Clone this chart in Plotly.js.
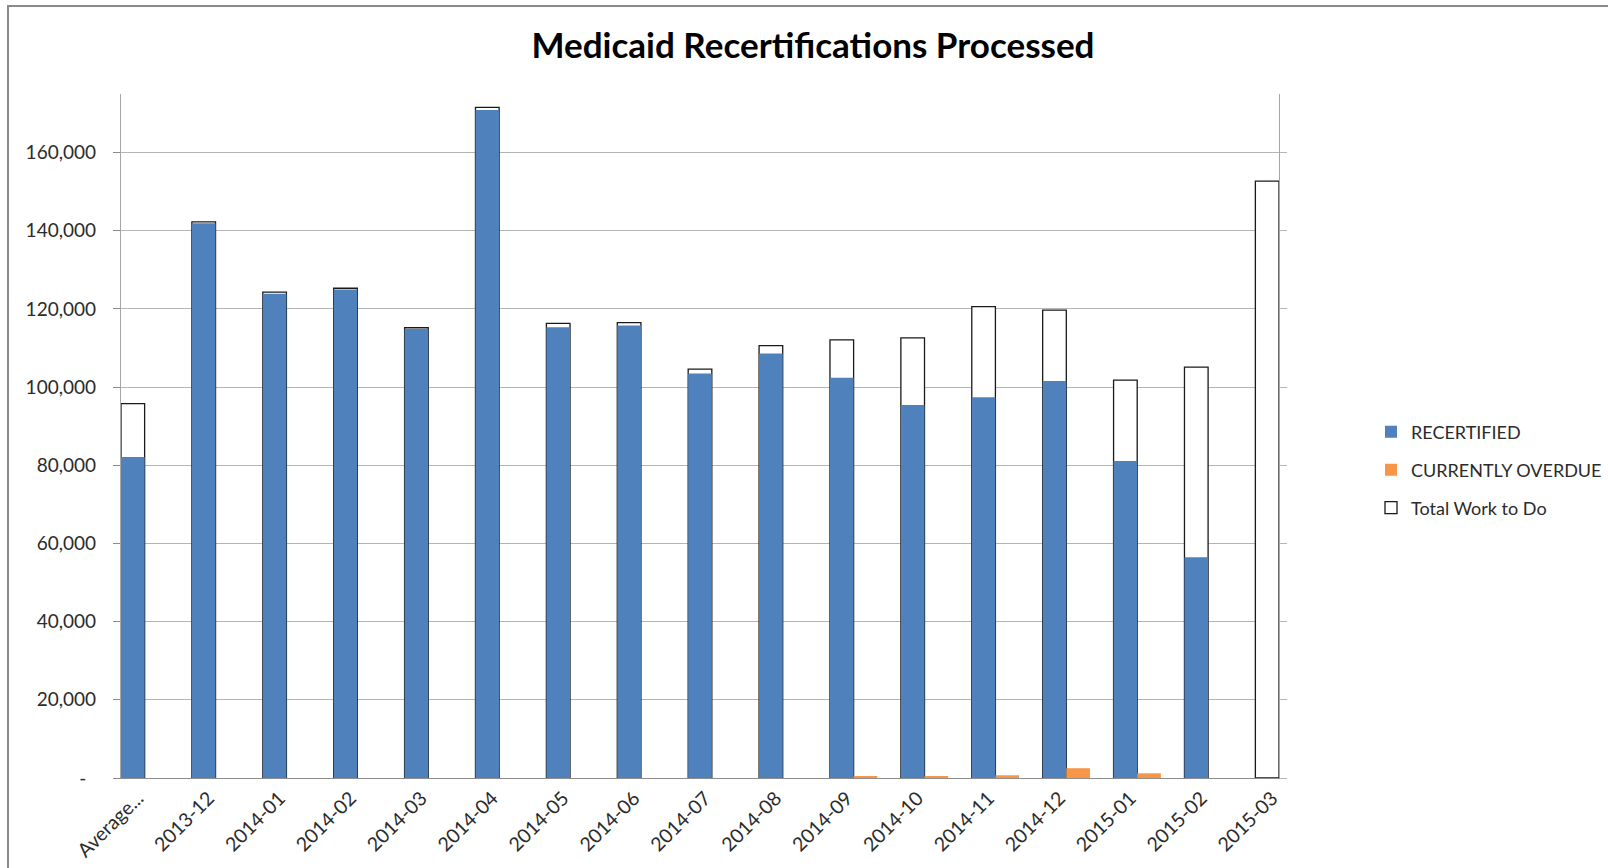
<!DOCTYPE html>
<html>
<head>
<meta charset="utf-8">
<script src="https://cdn.plot.ly/plotly-3.0.1.min.js"></script>
<style>
  html, body { margin: 0; padding: 0; background: #ffffff; overflow: hidden; }
  #wrap { position: relative; width: 1608px; height: 868px; overflow: hidden; }
  #chart { position: absolute; left: 0; top: 0; width: 1608px; height: 868px; }
  #frame { position: absolute; left: 7px; top: 5px; width: 1700px; height: 1000px;
           border: 2px solid #8a8a8a; box-sizing: border-box; pointer-events: none; }
</style>
</head>
<body>
<div id="wrap">
  <div id="chart"></div>
  <div id="frame"></div>
</div>
<script>
// ---- data ----
const categories = ['Average...', '2013-12', '2014-01', '2014-02', '2014-03', '2014-04',
  '2014-05', '2014-06', '2014-07', '2014-08', '2014-09', '2014-10', '2014-11',
  '2014-12', '2015-01', '2015-02', '2015-03'];

const recertified = [82100, 141900, 123900, 125000, 114900, 170900,
  115300, 115800, 103500, 108600, 102400, 95400, 97400,
  101600, 81100, 56500, null];

const currentlyOverdue = [null, null, null, null, null, null,
  null, null, null, null, 400, 400, 700,
  2500, 1200, null, null];

const totalWorkToDo = [95800, 142300, 124300, 125300, 115200, 171600,
  116300, 116500, 104600, 110600, 112100, 112600, 120600,
  119700, 101800, 105100, 152700];

const yTickVals = [0, 20000, 40000, 60000, 80000, 100000, 120000, 140000, 160000];
const yTickText = ['-\u00a0\u00a0', '20,000', '40,000', '60,000', '80,000',
  '100,000', '120,000', '140,000', '160,000'];

// ---- styling ----
const FONT = 'Lato, "Open Sans", "Noto Sans", sans-serif';
const TXT = '#2b2b2b';
const BW = 1 / 3;

const traces = [
  {
    type: 'bar', name: 'Total Work to Do', x: categories, y: totalWorkToDo,
    width: BW, offset: -BW / 2,
    marker: { color: '#ffffff', line: { color: '#1a1a1a', width: 1.3 } },
    legend: 'legend3', hoverinfo: 'x+y+name'
  },
  {
    type: 'bar', name: 'RECERTIFIED', x: categories, y: recertified,
    width: BW, offset: -BW / 2,
    marker: { color: '#4f81bd', line: { width: 0 } },
    legend: 'legend', hoverinfo: 'x+y+name'
  },
  {
    type: 'bar', name: 'CURRENTLY OVERDUE', x: categories, y: currentlyOverdue,
    width: BW, offset: BW / 2,
    marker: { color: '#f79646', line: { width: 0 } },
    legend: 'legend2', hoverinfo: 'x+y+name'
  },
  {
    type: 'scatter', mode: 'lines', x: categories, y: categories.map(() => null),
    yaxis: 'y2', showlegend: false, hoverinfo: 'skip'
  }
];

function legendAt(yPx) {
  return {
    xref: 'container', yref: 'container',
    x: 1371 / 1608, y: 1 - yPx / 868,
    xanchor: 'left', yanchor: 'middle',
    bgcolor: 'rgba(0,0,0,0)', borderwidth: 0,
    font: { family: FONT, size: 18, color: TXT },
    itemwidth: 30
  };
}

const layout = {
  width: 1608, height: 868,
  paper_bgcolor: '#ffffff', plot_bgcolor: '#ffffff',
  margin: { l: 121, r: 329, t: 94, b: 90, pad: 0 },
  barmode: 'overlay',
  title: {
    text: 'Medicaid Recertifications Processed',
    xref: 'container', yref: 'container',
    x: 813 / 1608, y: 1 - 46 / 868, xanchor: 'center', yanchor: 'middle',
    font: { family: FONT, size: 35, color: '#000000', weight: 'bold' }
  },
  xaxis: {
    type: 'category',
    range: [-BW / 2, categories.length - 1 + BW / 2],
    tickangle: -45,
    ticks: '',
    ticklabelshift: 5,
    showgrid: false,
    showline: true, linecolor: '#8c8c8c', linewidth: 1.3,
    tickfont: { family: FONT, size: 19.5, color: TXT },
    fixedrange: true
  },
  yaxis: {
    range: [0, 175000],
    tickvals: yTickVals, ticktext: yTickText,
    ticks: 'outside', ticklen: 7, tickcolor: '#8c8c8c', tickwidth: 1.3,
    ticklabelstandoff: 13,
    showgrid: true, gridcolor: '#b5b5b5', gridwidth: 1.3,
    zeroline: false,
    showline: true, linecolor: '#a6a6a6', linewidth: 1.3,
    tickfont: { family: FONT, size: 19, color: TXT },
    fixedrange: true
  },
  yaxis2: {
    overlaying: 'y', side: 'right',
    range: [0, 175000],
    tickvals: yTickVals,
    ticks: 'outside', ticklen: 7, tickcolor: '#b5b5b5', tickwidth: 1.3,
    showticklabels: false, showgrid: false, zeroline: false,
    showline: true, linecolor: '#a6a6a6', linewidth: 1.3,
    fixedrange: true
  },
  legend: legendAt(432),
  legend2: legendAt(470),
  legend3: legendAt(508)
};

Plotly.newPlot('chart', traces, layout, { displayModeBar: false, staticPlot: false });
</script>
</body>
</html>
